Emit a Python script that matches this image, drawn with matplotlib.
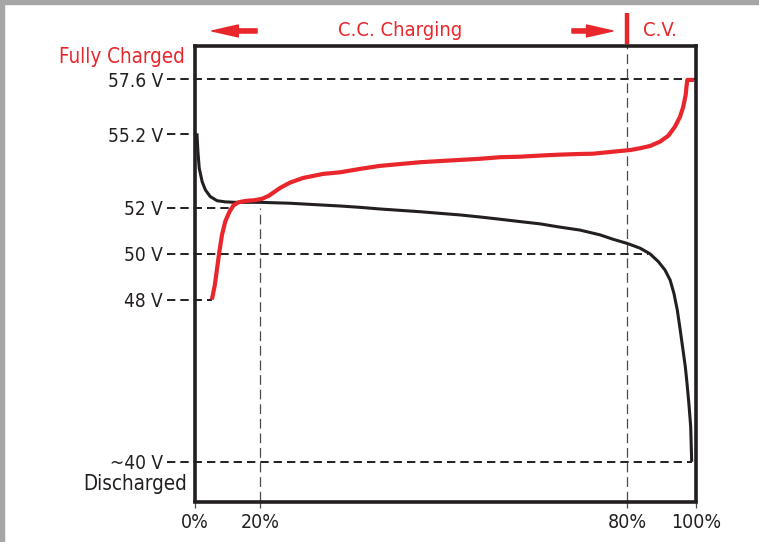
"""
Li-ion pack charge / discharge schematic (48 V nominal).
Curves are read off a hand-drawn schematic, so both axes are piecewise (not to scale).
"""

import matplotlib

matplotlib.use("Agg")
import matplotlib.pyplot as plt
import numpy as np
from matplotlib.patches import Rectangle

RED, INK, GUIDE = "#e8262b", "#231f20", "#4a4a4a"
FONT = ["DejaVu Sans", "Liberation Sans"]

# discharge curve (black): state of charge in %, pack voltage in V
dis_soc = [0.6, 0.9, 1.3, 2.2, 3.2, 4.7, 6.8, 9.3, 12.4, 16.0,
           20.0, 24.9, 30.3, 33.1, 36.4, 39.6, 42.9, 46.2, 49.4, 52.7,
           56.0, 59.3, 62.5, 65.8, 69.0, 72.3, 75.6, 77.7, 80.0, 83.8,
           86.7, 89.1, 91.0, 92.5, 93.6, 94.58, 95.36, 96.23, 96.90, 97.39,
           97.97, 98.46, 98.75]
dis_v = [55.25, 54.45, 53.73, 53.14, 52.78, 52.49, 52.31, 52.26, 52.24, 52.24,
         52.24, 52.20, 52.12, 52.08, 52.02, 51.95, 51.89, 51.83, 51.76, 51.69,
         51.60, 51.50, 51.40, 51.30, 51.16, 51.03, 50.82, 50.63, 50.45, 50.24,
         49.99, 49.65, 49.29, 48.85, 48.27, 47.48, 46.58, 45.51, 44.69, 43.88,
         42.80, 41.73, 40.0]

# charge curve (red)
chg_soc = [5.2, 6.1, 6.8, 7.5, 8.3, 9.3, 10.6, 11.9, 13.4, 15.5,
           18.1, 20.3, 21.4, 22.0, 23.3, 24.9, 27.0, 30.3, 33.1, 36.4,
           39.6, 42.9, 46.2, 49.4, 52.7, 56.0, 59.3, 62.5, 65.8, 69.0,
           72.3, 74.4, 78.9, 80.9, 83.8, 86.7, 89.6, 92.0, 93.9, 95.4,
           96.3, 97.0, 97.3, 97.5, 99.4]
chg_v = [48.0, 48.63, 49.36, 50.09, 50.82, 51.40, 51.83, 52.12, 52.24, 52.30,
         52.33, 52.39, 52.52, 52.63, 52.87, 53.10, 53.30, 53.48, 53.55, 53.70,
         53.83, 53.91, 53.99, 54.04, 54.09, 54.14, 54.21, 54.23, 54.28, 54.32,
         54.35, 54.36, 54.48, 54.52, 54.60, 54.70, 54.89, 55.15, 55.54, 55.98,
         56.41, 56.92, 57.36, 57.58, 57.58]

soc_ticks = [0, 20, 80, 100]
soc_labels = ["0%", "20%", "80%", "100%"]
v_ticks = [57.6, 55.2, 52, 50, 48, 40]
v_labels = ["57.6 V", "55.2 V", "52 V", "50 V", "48 V", "~40 V"]
# where each voltage guide stops (SOC at which it meets a curve)
guide_end = [100, 0, 11.8, 86.0, 5.2, 98.75]

# schematic spacing of the axes (relative drawing units)
SOC_KNOTS, SOC_POS = [0, 20, 80, 100], [0, 65, 432, 501]
V_KNOTS, V_POS = [40, 48, 57.6], [0, 162.2, 382.2]


def lin_extrap(x, xs, ys):
    x = np.asarray(x, dtype=float)
    xs, ys = np.asarray(xs, float), np.asarray(ys, float)
    y = np.interp(x, xs, ys)
    y = np.where(x < xs[0], ys[0] + (x - xs[0]) * (ys[1] - ys[0]) / (xs[1] - xs[0]), y)
    y = np.where(x > xs[-1], ys[-1] + (x - xs[-1]) * (ys[-1] - ys[-2]) / (xs[-1] - xs[-2]), y)
    return y


def scale(knots, pos):
    return (lambda x: lin_extrap(x, knots, pos), lambda p: lin_extrap(p, pos, knots))


def main() -> None:
    plt.rcParams["font.family"] = FONT
    plt.rcParams["font.stretch"] = "condensed"
    plt.rcParams["lines.scale_dashes"] = False

    fig = plt.figure(figsize=(7.59, 5.42), dpi=100)
    fig.patches.append(Rectangle((0, 1 - 4 / 542), 1, 4 / 542, transform=fig.transFigure,
                                 color="#a6a6a6", zorder=0))
    fig.patches.append(Rectangle((0, 0), 4 / 759, 1, transform=fig.transFigure,
                                 color="#a6a6a6", zorder=0))
    ax = fig.add_axes([195 / 759, 40.5 / 542, 501 / 759, 455.5 / 542])

    ax.set_xscale("function", functions=scale(SOC_KNOTS, SOC_POS))
    ax.set_yscale("function", functions=scale(V_KNOTS, V_POS))
    ax.set_xlim(0, 100)
    ax.set_ylim(38.04, 59.06)

    for s in ax.spines.values():
        s.set_linewidth(2.6)
        s.set_color(INK)

    ax.set_xticks(soc_ticks, soc_labels)
    ax.set_yticks(v_ticks, v_labels)
    ax.minorticks_off()
    ax.tick_params(axis="x", length=4, width=0.9, color=GUIDE, pad=4, labelsize=14,
                   labelcolor=INK)
    ax.tick_params(axis="y", length=0, pad=23, labelsize=13.7, labelcolor=INK)

    # voltage guides, starting a little left of the frame
    x_left = float(scale(SOC_KNOTS, SOC_POS)[1](-28))
    ax.hlines(v_ticks, x_left, guide_end, colors=INK, linewidth=1.4,
              linestyles=(0, (6, 3.6)), clip_on=False, zorder=2)
    # SOC guides
    ax.vlines(20, 38.04, 52, colors=GUIDE, linewidth=0.9, linestyles=(0, (7, 3.5)), zorder=2)
    ax.vlines(80, 38.04, 59.06, colors=GUIDE, linewidth=0.9, linestyles=(0, (7, 3.5)), zorder=2)

    ax.plot(dis_soc, dis_v, color=INK, linewidth=2.2, solid_capstyle="butt",
            solid_joinstyle="round", zorder=3)
    ax.plot(chg_soc, chg_v, color=RED, linewidth=3.0, solid_capstyle="butt",
            solid_joinstyle="round", zorder=4)

    # header: C.C. / C.V. phases
    tr = ax.get_xaxis_transform()
    arrow = dict(arrowstyle="simple,head_length=1.9,head_width=0.86,tail_width=0.3",
                 color=RED, shrinkA=0, shrinkB=0, mutation_scale=10)
    ax.annotate("", xy=(5.2, 1.033), xytext=(19.1, 1.033), xycoords=tr, textcoords=tr,
                arrowprops=arrow, annotation_clip=False)
    ax.annotate("", xy=(77.7, 1.033), xytext=(71.0, 1.033), xycoords=tr, textcoords=tr,
                arrowprops=arrow, annotation_clip=False)
    ax.plot([80, 80], [1.0044, 1.0725], transform=tr, color=RED, linewidth=3.2,
            solid_capstyle="butt", clip_on=False)
    ax.text(42.9, 1.033, "C.C. Charging", transform=tr, color=RED, fontsize=14.5,
            ha="center", va="center")
    ax.text(89.6, 1.033, "C.V.", transform=tr, color=RED, fontsize=14.5,
            ha="center", va="center")

    ax.text(-0.02, 0.963, "Fully Charged", transform=ax.transAxes, color=RED,
            fontsize=14.8, ha="right", va="baseline")
    ax.text(-0.016, 0.038, "Discharged", transform=ax.transAxes, color=INK,
            fontsize=14.8, ha="right", va="center")

    fig.savefig("out.png", dpi=100, facecolor="white")


if __name__ == "__main__":
    main()
